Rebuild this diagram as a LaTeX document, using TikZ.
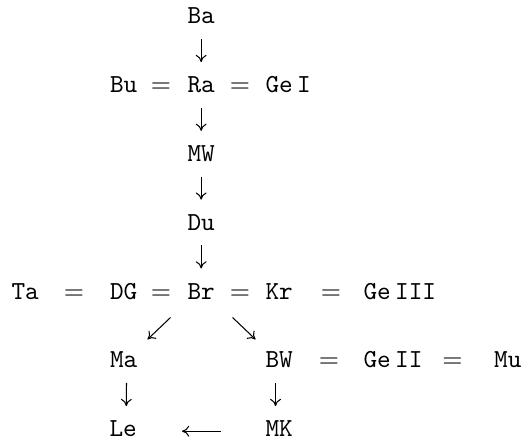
\documentclass[tikz,border=0pt]{standalone}
\usetikzlibrary{arrows.meta}
\begin{document}
\begin{tikzpicture}[x=0.385pt,y=-0.385pt,
  lbl/.style={inner sep=0pt, anchor=base west, font=\ttfamily},
  eq/.style={inner sep=0pt, anchor=base},
  conn/.style={line width=0.4pt, -{Computer Modern Rightarrow[length=2.8pt,width=4.2pt]}, shorten <=5.5pt, shorten >=5.5pt}]
\useasboundingbox (0,0) rectangle (521,440);
% row 1
\node[lbl] (Ba) at (187,24) {Ba};
% row 2
\node[lbl] (Bu) at (109.5,92.8) {Bu};
\node[eq]  (e1) at (161,92.8) {$=$};
\node[lbl] (Ra) at (187,92.8) {Ra};
\node[eq]  (e2) at (240,92.8) {$=$};
\node[lbl] (GeI) at (265,92.8) {Ge\,I};
% row 3
\node[lbl] (MW) at (187,161.6) {MW};
% row 4
\node[lbl] (Du) at (187,230.4) {Du};
% row 5
\node[lbl] (Ta) at (11,299.2) {Ta};
\node[eq]  (e3) at (74,299.2) {$=$};
\node[lbl] (DG) at (109.5,299.2) {DG};
\node[eq]  (e4) at (161,299.2) {$=$};
\node[lbl] (Br) at (187,299.2) {Br};
\node[eq]  (e5) at (240,299.2) {$=$};
\node[lbl] (Kr) at (265,299.2) {Kr};
\node[eq]  (e6) at (331,299.2) {$=$};
\node[lbl] (GeIII) at (363,299.2) {Ge\,III};
% row 6
\node[lbl] (Ma) at (109.5,368) {Ma};
\node[lbl] (BW) at (265,368) {BW};
\node[eq]  (e7) at (329,368) {$=$};
\node[lbl] (GeII) at (363,368) {Ge\,II};
\node[eq]  (e8) at (452.5,368) {$=$};
\node[lbl] (Mu) at (493.7,368) {Mu};
% row 7
\node[lbl] (Le) at (109,436.8) {Le};
\node[lbl] (MK) at (265,436.8) {MK};
% connectors
\draw[conn] (Ba.south) -- (Ra.north);
\draw[conn] (Ra.south) -- (MW.north);
\draw[conn] (MW.south) -- (Du.north);
\draw[conn] (Du.south) -- (Br.north);
\draw[conn, shorten <=0pt, shorten >=0pt] ([xshift=-11.8pt,yshift=-6.85pt]Br.south) -- ([xshift=9.2pt,yshift=4.7pt]Ma.north);
\draw[conn, shorten <=0pt, shorten >=0pt] ([xshift=12.1pt,yshift=-6.85pt]Br.south) -- ([xshift=-9.1pt,yshift=4.7pt]BW.north);
\draw[conn] ([xshift=1.15pt]Ma.south) -- ([xshift=1.15pt]Le.north);
\draw[conn] ([xshift=-1.4pt]BW.south) -- ([xshift=-1.4pt]MK.north);
\draw[conn, shorten <=17.1pt, shorten >=17.2pt] (MK.mid west) -- (Le.mid east);
\end{tikzpicture}
\end{document}
